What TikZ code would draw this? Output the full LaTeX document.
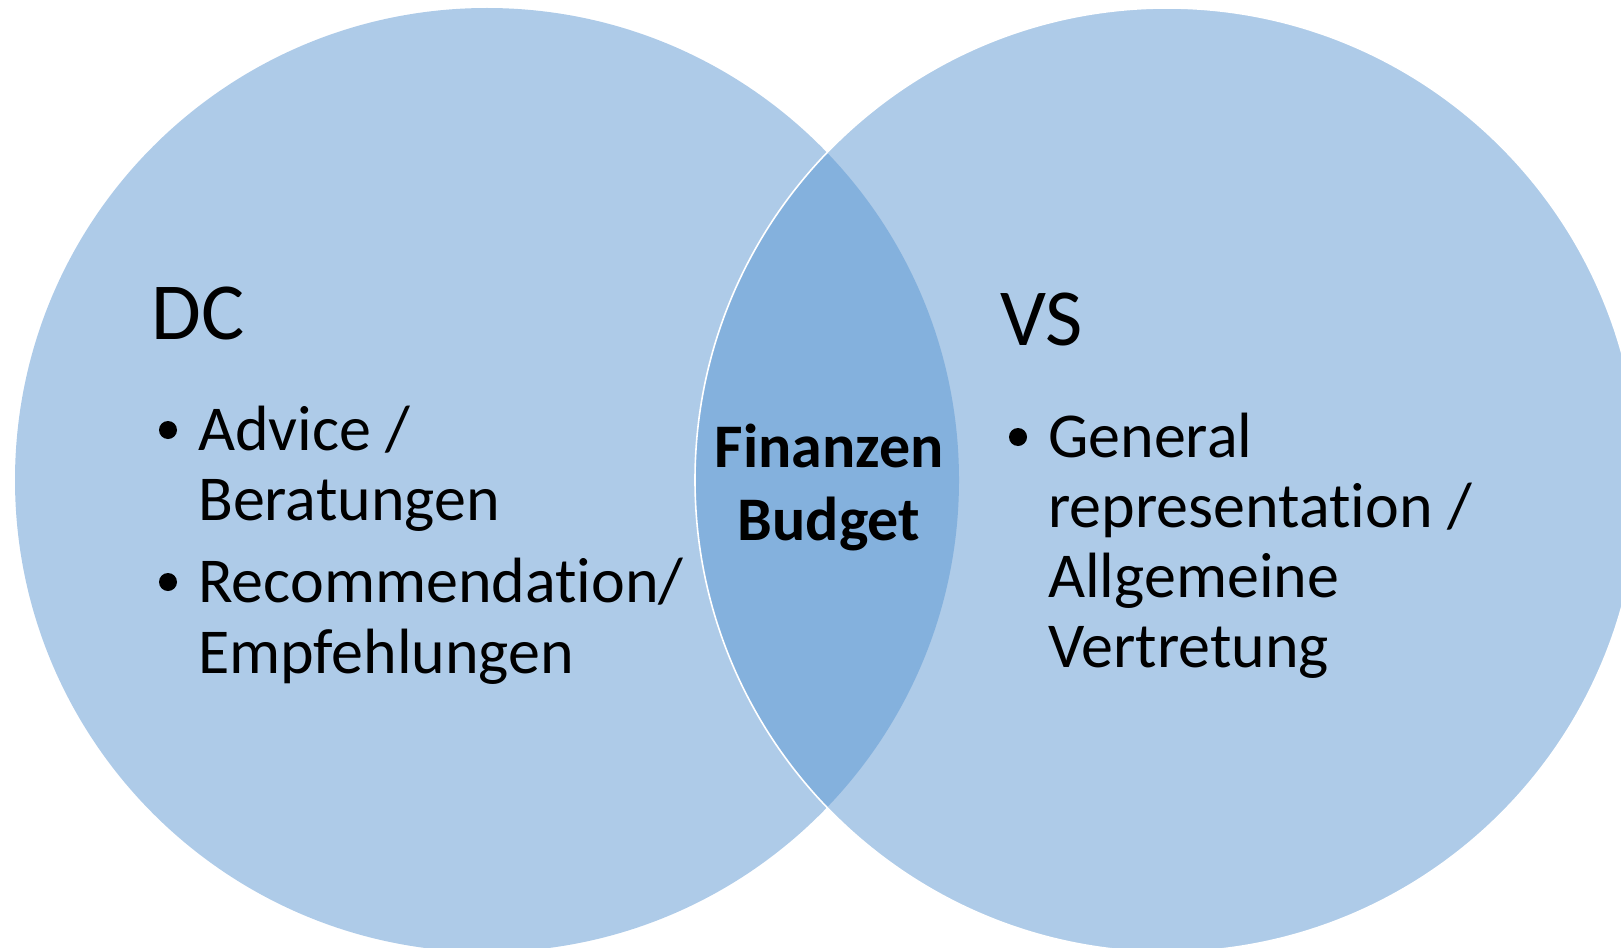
\documentclass[tikz,border=0pt]{standalone}
\usepackage{fontspec}
\setmainfont{Carlito}[RawFeature={-liga;-dlig}]
\definecolor{venlight}{RGB}{174,203,232}
\definecolor{vendark}{RGB}{132,177,221}
\tikzset{
  body/.style={anchor=base west, inner sep=0pt, font=\fontsize{64}{70}\selectfont, text=black},
  head/.style={anchor=base west, inner sep=0pt, font=\fontsize{81}{90}\selectfont, text=black},
  mid/.style={anchor=base, inner sep=0pt, font=\fontsize{62}{70}\selectfont\bfseries, text=black},
  bul/.style={fill=black},
}
\begin{document}
\begin{tikzpicture}[x=1pt,y=-1pt]
\useasboundingbox (0,0) rectangle (1621,947);
\clip (0,0) rectangle (1621,947);
\coordinate (cl) at (487,480);
\coordinate (cr) at (1167,480);
\fill[venlight] (cl) circle[radius=472pt];
\fill[venlight] (cr) circle[radius=472pt];
\begin{scope}
  \clip (cl) circle[radius=472pt];
  \fill[vendark] (cr) circle[radius=472pt];
\end{scope}
\draw[white, line width=1.6pt] (cr) circle[radius=472pt];
% left
\node[head] (dc) at (151,339) {DC};
\fill[bul] (168,430) circle[radius=9pt];
\node[body] (l1) at (198,450) {Advice /};
\node[body] (l2) at (198,520) {Beratungen};
\fill[bul] (168,582) circle[radius=9pt];
\node[body] (l3) at (198,602) {Recommendation/};
\node[body] (l4) at (198,673) {Empfehlungen};
% right
\node[head] (vs) at (1000,345) {VS};
\fill[bul] (1018,437) circle[radius=9pt];
\node[body] (r1) at (1048,457) {General};
\node[body] (r2) at (1048,527) {representation /};
\node[body] (r3) at (1048,597) {Allgemeine};
\node[body] (r4) at (1048,667) {Vertretung};
% middle
\node[mid] (m1) at (829,467) {Finanzen};
\node[mid] (m2) at (829,540) {Budget};
\end{tikzpicture}
\end{document}
